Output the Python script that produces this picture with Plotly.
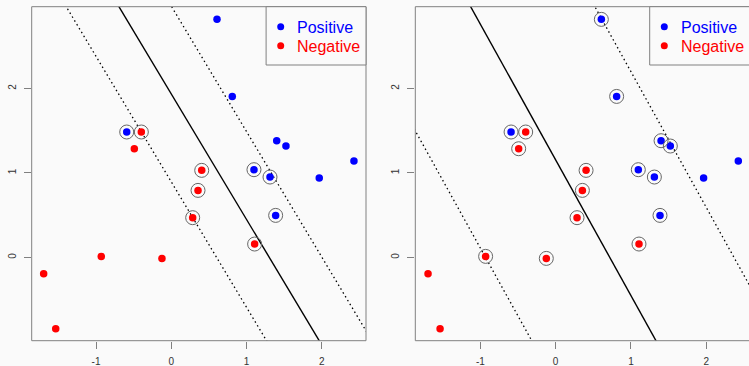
import plotly.graph_objects as go

W, H = 749, 366

# ---- data ----
pos_x = [0.607, 0.81, -0.592, 1.40, 1.523, 2.426, 1.098, 1.311, 1.965, 1.386]
pos_y = [2.817, 1.905, 1.484, 1.381, 1.318, 1.141, 1.038, 0.951, 0.940, 0.497]
neg_x = [-0.398, -0.491, 0.404, 0.355, 0.284, 1.107, -0.93, -0.124, -1.695, -1.535]
neg_y = [1.484, 1.286, 1.03, 0.793, 0.47, 0.158, 0.012, -0.012, -0.193, -0.844]

# support-vector flags (circled points) per panel
sv_left_pos = [0, 0, 1, 0, 0, 0, 1, 1, 0, 1]
sv_left_neg = [1, 0, 1, 1, 1, 1, 0, 0, 0, 0]
sv_right_pos = [1, 1, 1, 1, 1, 0, 1, 1, 0, 1]
sv_right_neg = [1, 1, 1, 1, 1, 1, 1, 1, 0, 0]

# decision boundary: intercept, slope, margin offset
left_line = (1.934, -1.486, 1.04)
right_line = (1.154, -1.606, 2.65)

legend_labels = ["Positive", "Negative"]
x_ticks = [-1, 0, 1, 2]
x_tick_text = ["-1", "0", "1", "2"]
y_ticks = [0, 1, 2]
y_tick_text = ["0", "1", "2"]

# ---- layout geometry (pixels) ----
BG = "#fafafa"
AX = "#808080"
top_px, bot_px = 6.7, 340.7
left_panel = (31.7, 366.0)
right_panel = (415.3, 749.0)
xr_left = [-1.854, 2.586]
xr_right = [-1.864, 2.568]
yr = [-0.986, 2.967]

def px(x):
    return x / W

def py(y):
    return (H - y) / H

fig = go.Figure()

panels = [
    ("x", "y", left_line, sv_left_pos, sv_left_neg, xr_left),
    ("x2", "y2", right_line, sv_right_pos, sv_right_neg, xr_right),
]

for xa, ya, (a, b, m), svp, svn, xr in panels:
    xs = [xr[0] - 1, xr[1] + 1]
    for off, dash, w in [(0, "solid", 1.4), (-m, "1.5px,3px", 1.3), (m, "1.5px,3px", 1.3)]:
        fig.add_trace(go.Scatter(
            x=xs, y=[a + off + b * v for v in xs], mode="lines",
            line=dict(color="black", width=w, dash=dash),
            xaxis=xa, yaxis=ya, showlegend=False, hoverinfo="skip"))
    fig.add_trace(go.Scatter(x=pos_x, y=pos_y, mode="markers",
                             marker=dict(color="#0000ff", size=7.5),
                             xaxis=xa, yaxis=ya, showlegend=False))
    fig.add_trace(go.Scatter(x=neg_x, y=neg_y, mode="markers",
                             marker=dict(color="#ff0000", size=7.5),
                             xaxis=xa, yaxis=ya, showlegend=False))
    cx = [x for x, f in zip(pos_x, svp) if f] + [x for x, f in zip(neg_x, svn) if f]
    cy = [y for y, f in zip(pos_y, svp) if f] + [y for y, f in zip(neg_y, svn) if f]
    fig.add_trace(go.Scatter(x=cx, y=cy, mode="markers",
                             marker=dict(symbol="circle-open", size=14, color="#666666",
                                         line=dict(color="#666666", width=1)),
                             xaxis=xa, yaxis=ya, showlegend=False, hoverinfo="skip"))

axis_common = dict(showgrid=False, zeroline=False, showline=False,
                   ticks="outside", ticklen=7, tickwidth=1, tickcolor=AX,
                   tickfont=dict(family="Liberation Sans", size=10, color="#333333"))

fig.update_layout(
    width=W, height=H, margin=dict(l=0, r=0, t=0, b=0),
    paper_bgcolor=BG, plot_bgcolor=BG, showlegend=False,
    xaxis=dict(domain=[px(left_panel[0]), px(left_panel[1])], range=xr_left,
               tickvals=x_ticks, ticktext=x_tick_text, anchor="y",
               ticklabelstandoff=4, **axis_common),
    yaxis=dict(domain=[py(bot_px), py(top_px)], range=yr, tickvals=y_ticks,
               ticktext=y_tick_text, anchor="x", tickangle=-90,
               ticklabelstandoff=4, **axis_common),
    xaxis2=dict(domain=[px(right_panel[0]), 1.0], range=xr_right,
                tickvals=x_ticks, ticktext=x_tick_text, anchor="y2",
                ticklabelstandoff=4, **axis_common),
    yaxis2=dict(domain=[py(bot_px), py(top_px)], range=yr, tickvals=y_ticks,
                ticktext=y_tick_text, anchor="x2", tickangle=-90,
                ticklabelstandoff=4, **axis_common),
)

shapes = []
annotations = []
for (l, r) in [left_panel, right_panel]:
    rr = r if r < W - 1 else W + 5
    shapes.append(dict(type="rect", xref="paper", yref="paper",
                       x0=px(l), x1=px(rr), y0=py(bot_px), y1=py(top_px),
                       line=dict(color=AX, width=1), fillcolor="rgba(0,0,0,0)"))
    # legend box
    lx0 = l + 234.4
    lx1 = l + 334.3 if r < W - 1 else W + 5
    shapes.append(dict(type="rect", xref="paper", yref="paper",
                       x0=px(lx0), x1=px(lx1), y0=py(65), y1=py(top_px),
                       line=dict(color=AX, width=1), fillcolor=BG))
    for label, col, yy in [(legend_labels[0], "#0000ff", 26.7),
                           (legend_labels[1], "#ff0000", 45.7)]:
        cxp = lx0 + 14.6
        shapes.append(dict(type="circle", xref="paper", yref="paper",
                           xsizemode="pixel", ysizemode="pixel",
                           xanchor=px(cxp), yanchor=py(yy),
                           x0=-3.5, x1=3.5, y0=-3.5, y1=3.5,
                           fillcolor=col, line=dict(width=0)))
        annotations.append(dict(xref="paper", yref="paper", x=px(lx0 + 29),
                                y=py(yy + 0.5), xanchor="left", yanchor="middle",
                                text=label, showarrow=False,
                                font=dict(family="Liberation Sans", size=16, color=col)))

fig.update_layout(shapes=shapes, annotations=annotations)
fig.write_html("out.html")
